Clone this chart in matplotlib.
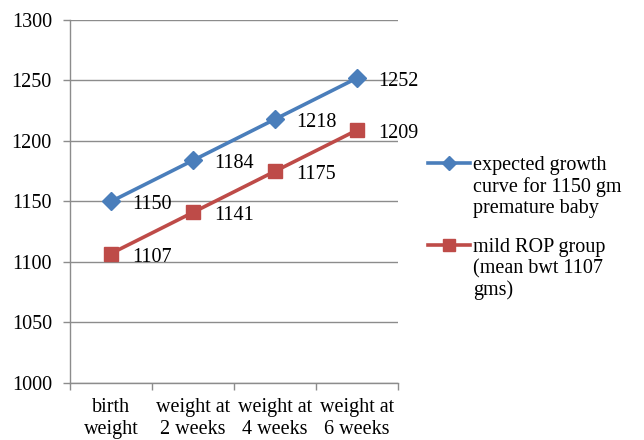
import matplotlib
matplotlib.use("Agg")
import matplotlib.pyplot as plt
from matplotlib.lines import Line2D
from matplotlib.ticker import FixedLocator, NullFormatter

plt.rcParams['font.family'] = ['Liberation Serif', 'DejaVu Serif']

categories = ["birth\nweight", "weight at\n2 weeks", "weight at\n4 weeks", "weight at\n6 weeks"]
expected = [1150, 1184, 1218, 1252]
mild_rop = [1107, 1141, 1175, 1209]
series_names = ["expected growth\ncurve for 1150 gm\npremature baby",
                "mild ROP group\n(mean bwt 1107\ngms)"]
y_ticks = [1000, 1050, 1100, 1150, 1200, 1250, 1300]

blue = "#4A7EBB"
red = "#BE4B48"
grid_c = "#8C8C8C"
FS = 14.5

W, H = 644, 440
fig = plt.figure(figsize=(W / 100, H / 100), dpi=100)
ax = fig.add_axes([70 / W, 57 / H, 328 / W, 363 / H])

x = list(range(len(categories)))
ax.plot(x, expected, color=blue, lw=2.6, marker="D", ms=9,
        mfc=blue, mec=blue, zorder=3)
ax.plot(x, mild_rop, color=red, lw=2.6, marker="s", ms=9.5,
        mfc=red, mec=red, zorder=3)

for series in (expected, mild_rop):
    for xi, v in zip(x, series):
        ax.annotate(str(v), (xi, v), xytext=(15, -2.5), textcoords="offset points",
                    ha="left", va="center", fontsize=FS, color="black", zorder=4)

ax.set_xlim(-0.5, len(categories) - 0.5)
ax.set_ylim(1000, 1300)
ax.set_yticks(y_ticks)
ax.set_yticklabels([str(t) for t in y_ticks], fontsize=FS)
ax.yaxis.grid(True, color=grid_c, lw=1)
ax.set_axisbelow(True)

ax.set_xticks(x)
ax.set_xticklabels(categories, fontsize=FS, linespacing=1.2)
ax.tick_params(axis="x", length=0, pad=11)
ax.xaxis.set_minor_locator(FixedLocator([i - 0.5 for i in range(len(categories) + 1)]))
ax.xaxis.set_minor_formatter(NullFormatter())
ax.tick_params(axis="x", which="minor", length=5, color=grid_c, width=1)
ax.tick_params(axis="y", length=5, color=grid_c, width=1, pad=8)

for s in ("top", "right"):
    ax.spines[s].set_visible(False)
for s in ("left", "bottom"):
    ax.spines[s].set_color(grid_c)
    ax.spines[s].set_linewidth(1)

# legend drawn by hand so each marker sits beside the first line of its label
legend_items = [(blue, "D", 7, series_names[0], 163),
                (red, "s", 9, series_names[1], 245)]
for color, marker, ms, label, ypix in legend_items:
    yf = 1 - ypix / H
    fig.add_artist(Line2D([428 / W, 470 / W], [yf, yf], transform=fig.transFigure,
                          color=color, lw=2.6))
    fig.add_artist(Line2D([449 / W], [yf], transform=fig.transFigure, color=color,
                          marker=marker, ms=ms, mfc=color, mec=color, lw=0))
    fig.text(473 / W, 1 - (ypix - 7) / H, label, fontsize=FS, ha="left", va="top",
             linespacing=1.13)

fig.savefig("out.png", dpi=100)
